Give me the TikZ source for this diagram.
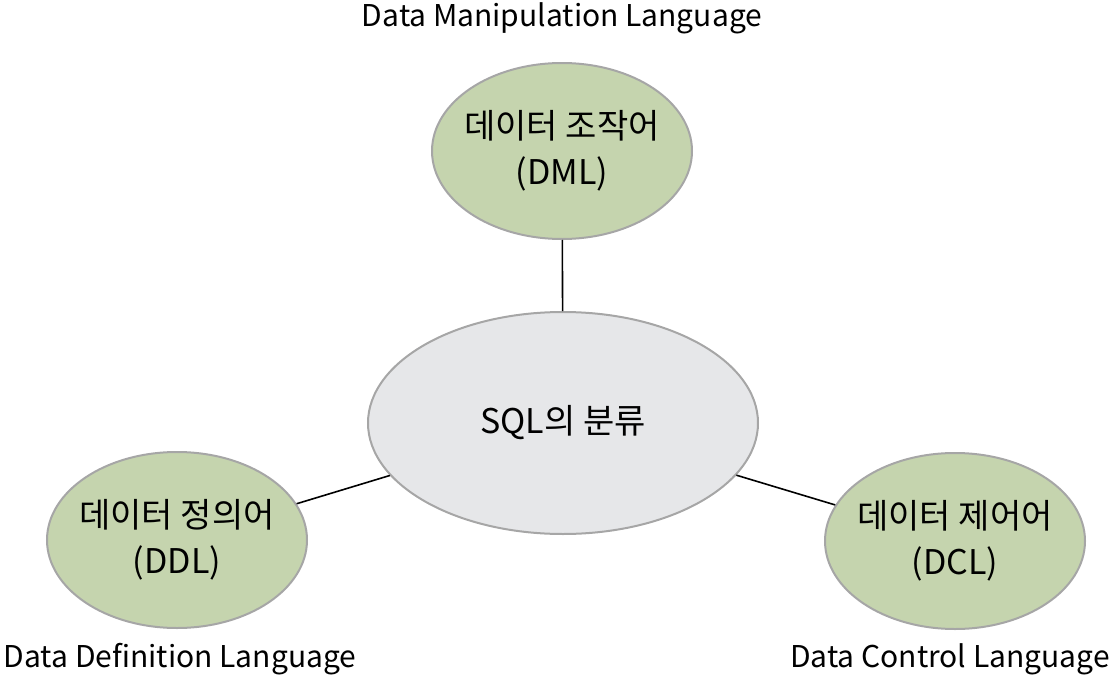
\documentclass[tikz,border=0pt]{standalone}
\usepackage{fontspec}
\setmainfont{Noto Sans CJK KR}
\usetikzlibrary{shapes.geometric}

\definecolor{leaf}{HTML}{C5D4AE}
\definecolor{hubgray}{HTML}{E6E7E9}
\tikzset{
  kind/.style={ellipse, draw=gray!70, line width=1pt, fill=leaf, inner ysep=0pt,
    inner xsep=-20pt, minimum width=130pt, minimum height=88pt, align=center,
    font=\fontsize{17}{23}\selectfont},
  hub/.style={kind, fill=hubgray, minimum width=195pt, minimum height=111pt},
  full/.style={font=\fontsize{15}{18}\selectfont},
  link/.style={black, line width=0.8pt}
}

\begin{document}
\begin{tikzpicture}[x=0.5pt, y=-0.5pt]
\useasboundingbox (0,0) rectangle (1120,680);
% the three kinds round the centre
\node[hub] (sql) at (563,423) {SQL의 분류};
\node[kind] (dml) at (562,151) {데이터 조작어\\(DML)};
\node[kind] (ddl) at (177,540) {데이터 정의어\\(DDL)};
\node[kind] (dcl) at (955,541) {데이터 제어어\\(DCL)};
\draw[link] (dml) -- (sql);
\draw[link] (ddl) -- (sql);
\draw[link] (dcl) -- (sql);
% full names
\node[full] (dmlname) at (562,18) {Data Manipulation Language};
\node[full] (ddlname) at (180,659) {Data Definition Language};
\node[full] (dclname) at (950,659) {Data Control Language};
\end{tikzpicture}
\end{document}
